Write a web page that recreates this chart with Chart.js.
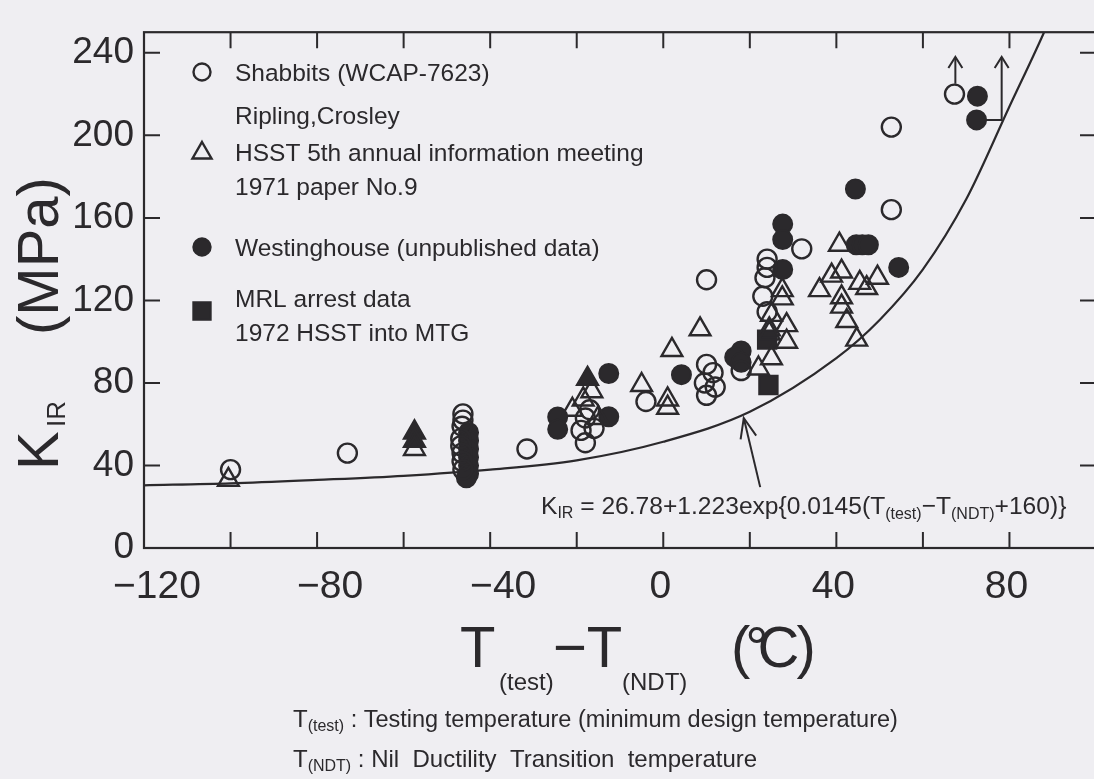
<!DOCTYPE html>
<html>
<head>
<meta charset="utf-8">
<script src="https://cdn.jsdelivr.net/npm/chart.js@4/dist/chart.umd.min.js"></script>
<style>
  html, body { margin: 0; padding: 0; background: #efeef2; overflow: hidden; }
  #wrap { width: 1094px; height: 779px; overflow: hidden; position: relative; }
  canvas { display: block; }
</style>
</head>
<body>
<div id="wrap"><canvas id="c" width="1112" height="779"></canvas></div>
<script>
// ---- tick values ----
const xLabelTicks = [-120, -80, -40, 0, 40, 80];
const xMarkTicks = [-100, -80, -60, -40, -20, 0, 20, 40, 60, 80];
const yLabelTicks = [0, 40, 80, 120, 160, 200, 240];
const yMarkTicks = [40, 80, 120, 160, 200, 240];

// ---- Shabbits (WCAP-7623): open circles ----
const shabT = [-100, -73, -46.3, -46.3, -46.5, -46.8, -46.8, -46.5, -46.5, -46.3, -31.5,
  -18, -19, -16, -18, -17, -4, 10, 10, 11.5, 9.5, 12, 10, 18,
  24, 24, 23.5, 23, 24, 32, 52.7, 52.7, 67.3];
const shabK = [38, 46, 65, 62, 59, 53, 49.5, 46, 42, 38, 48,
  51, 57, 58, 63, 67, 71, 130, 89, 85, 80, 78, 74, 86,
  140, 136, 131, 122, 114.5, 145, 204, 164, 220];

// ---- HSST 5th annual information meeting: triangles ----
const hsstT = [-100.5, -57.5, -57.5, -57.5, -21, -18.5, -16.5, -15, -17.5,
  -5, 2, 1, 1, 8.5, 22, 25, 24.5, 25, 27.5, 27.5, 28.5, 28.5, 24.5,
  40.7, 38.9, 41.2, 36.1, 45.4, 49.5, 47, 41.2, 41.2, 42.4, 44.7];
const hsstK = [33, 56, 52, 48, 67, 72, 76, 63, 82,
  79, 96, 72, 68, 106, 87, 92, 106, 113, 125, 121, 108, 100, 104,
  147, 132, 134, 125, 128.5, 131, 126, 121.5, 117, 110, 101];
const hsstSolid = [0, 1, 1, 0, 0, 0, 0, 0, 1,
  0, 0, 0, 0, 0, 0, 0, 0, 0, 0, 0, 0, 0, 0,
  0, 0, 0, 0, 0, 0, 0, 0, 0, 0, 0];

// ---- Westinghouse (unpublished data): filled circles ----
const westT = [-45, -45, -45, -45, -45, -45, -45.5, -24.4, -24.4, -12.6, -12.6,
  4.2, 18, 16.5, 18, 27.6, 27.6, 27.6, 44.4, 44.6, 46, 47.4, 54.4, 72.6, 72.4];
const westK = [56, 52, 48, 44, 40, 36, 34, 63.5, 57.5, 84.6, 63.6,
  84, 95.5, 92.5, 90, 157, 149.5, 135, 174, 147, 147, 147, 136, 219, 207.5];

// ---- MRL arrest data (1972 HSST into MTG): filled squares ----
const mrlT = [24, 24.3];
const mrlK = [101, 79];

// ---- K_IR reference curve ----
const curveT = [-120, -100, -80, -60, -40, -20, 0, 20, 40, 50, 60, 70, 80, 88, 92];
const curveK = [30.4, 31.3, 33, 35, 38, 42.5, 51.5, 66, 92, 110.5, 135, 169, 214, 250, 270];

// ---- "greater than" arrows and the curve pointer, in data units ----
const arrowUpA = [[67.5, 225], [67.5, 238]];
const arrowUpB = [[74.5, 207.5], [78.2, 207.5], [78.2, 238]];
const curvePointer = [[22.4, 29.5], [18.6, 63]];

const INK = '#2b292c';
const FONT = '"Liberation Sans", Arial, Helvetica, sans-serif';
const CLEAR = 'rgba(0,0,0,0)';

const pts = (xs, ys) => xs.map((x, i) => ({ x, y: ys[i] }));
const fmt = v => (v < 0 ? '\u2212' + Math.abs(v) : String(v));

function marker(ctx, style, x, y, r, filled) {
  ctx.save();
  ctx.lineWidth = 2.4;
  ctx.strokeStyle = INK;
  ctx.fillStyle = filled ? INK : CLEAR;
  ctx.beginPath();
  if (style === 'circle') {
    ctx.arc(x, y, r, 0, Math.PI * 2);
  } else if (style === 'triangle') {
    ctx.moveTo(x, y - r);
    ctx.lineTo(x + r * Math.sin(Math.PI / 3), y + r / 2);
    ctx.lineTo(x - r * Math.sin(Math.PI / 3), y + r / 2);
    ctx.closePath();
  } else {
    const s = r * Math.SQRT1_2;
    ctx.rect(x - s, y - s, 2 * s, 2 * s);
  }
  if (filled) ctx.fill();
  ctx.stroke();
  ctx.restore();
}

// draws a run of text pieces; each piece: {t, size, dy, gap}
function rich(ctx, x, y, parts) {
  let cx = x;
  for (const p of parts) {
    cx += p.gap || 0;
    ctx.font = (p.size) + 'px ' + FONT;
    ctx.fillText(p.t, cx, y + (p.dy || 0));
    cx += ctx.measureText(p.t).width;
  }
  return cx;
}

function polyArrow(ctx, chart, path, head, headW) {
  const xs = chart.scales.x, ys = chart.scales.y;
  const p = path.map(([a, b]) => [xs.getPixelForValue(a), ys.getPixelForValue(b)]);
  ctx.save();
  ctx.strokeStyle = INK;
  ctx.lineWidth = 2;
  ctx.beginPath();
  ctx.moveTo(p[0][0], p[0][1]);
  for (let i = 1; i < p.length; i++) ctx.lineTo(p[i][0], p[i][1]);
  ctx.stroke();
  const [x1, y1] = p[p.length - 2], [x2, y2] = p[p.length - 1];
  const ang = Math.atan2(y2 - y1, x2 - x1);
  ctx.beginPath();
  ctx.moveTo(x2 - head * Math.cos(ang) + headW * Math.sin(ang), y2 - head * Math.sin(ang) - headW * Math.cos(ang));
  ctx.lineTo(x2, y2);
  ctx.lineTo(x2 - head * Math.cos(ang) - headW * Math.sin(ang), y2 - head * Math.sin(ang) + headW * Math.cos(ang));
  ctx.stroke();
  ctx.restore();
}

const framePlugin = {
  id: 'frame',
  afterDatasetsDraw(chart) {
    const { ctx, chartArea: a, scales: { x, y } } = chart;
    ctx.save();
    ctx.strokeStyle = INK;
    ctx.lineWidth = 2.2;
    ctx.strokeRect(a.left, a.top, a.right - a.left, a.bottom - a.top);
    ctx.lineWidth = 2;
    const TL = 16;
    ctx.beginPath();
    for (const v of xMarkTicks) {
      const px = x.getPixelForValue(v);
      ctx.moveTo(px, a.bottom); ctx.lineTo(px, a.bottom - TL);
      ctx.moveTo(px, a.top); ctx.lineTo(px, a.top + TL);
    }
    for (const v of yMarkTicks) {
      const py = y.getPixelForValue(v);
      ctx.moveTo(a.left, py); ctx.lineTo(a.left + TL, py);
      ctx.moveTo(a.right, py); ctx.lineTo(a.right - TL, py);
    }
    ctx.stroke();

    // x tick labels (negative values sit a little right of their tick)
    ctx.fillStyle = INK;
    ctx.font = '39px ' + FONT;
    ctx.textAlign = 'center';
    ctx.textBaseline = 'alphabetic';
    for (const v of xLabelTicks) {
      const px = x.getPixelForValue(v) + (v < 0 ? 13 : -3);
      ctx.fillText(fmt(v), px, a.bottom + 50);
    }
    ctx.restore();

    polyArrow(ctx, chart, arrowUpA, 11, 7);
    polyArrow(ctx, chart, arrowUpB, 11, 7);
    polyArrow(ctx, chart, curvePointer, 20, 8);
  },
  afterDraw(chart) {
    const ctx = chart.ctx;
    ctx.save();
    ctx.fillStyle = INK;
    ctx.textBaseline = 'alphabetic';
    ctx.textAlign = 'left';

    // legend
    const LX = 202, TX = 235, LS = 24.5;
    marker(ctx, 'circle', LX, 72, 8.5, false);
    rich(ctx, TX, 81, [{ t: 'Shabbits (WCAP-7623)', size: LS }]);
    rich(ctx, TX, 124, [{ t: 'Ripling,Crosley', size: LS }]);
    marker(ctx, 'triangle', LX, 153, 11, false);
    rich(ctx, TX, 161, [{ t: 'HSST 5th annual information meeting', size: LS }]);
    rich(ctx, TX, 195, [{ t: '1971 paper No.9', size: LS }]);
    marker(ctx, 'circle', LX, 247, 8.5, true);
    rich(ctx, TX, 256, [{ t: 'Westinghouse (unpublished data)', size: LS }]);
    marker(ctx, 'rect', LX, 311, 12, true);
    rich(ctx, TX, 307, [{ t: 'MRL arrest data', size: LS }]);
    rich(ctx, TX, 341, [{ t: '1972 HSST into MTG', size: LS }]);

    // curve equation
    rich(ctx, 541, 514, [
      { t: 'K', size: 24.6 }, { t: 'IR', size: 16, dy: 4 },
      { t: ' = 26.78+1.223exp{0.0145(T', size: 24.6 },
      { t: '(test)', size: 16, dy: 5 }, { t: '\u2212T', size: 24.6 },
      { t: '(NDT)', size: 16, dy: 5 }, { t: '+160)}', size: 24.6 }
    ]);

    // x axis title
    rich(ctx, 460, 667, [{ t: 'T', size: 58 }]);
    rich(ctx, 499, 690, [{ t: '(test)', size: 24 }]);
    rich(ctx, 553, 667, [{ t: '\u2212T', size: 58 }]);
    rich(ctx, 622, 690, [{ t: '(NDT)', size: 24 }]);
    rich(ctx, 731, 667, [
      { t: '(', size: 58 }, { t: '\u00B0', size: 58, gap: -5 },
      { t: 'C', size: 58, gap: -11 }, { t: ')', size: 58, gap: -3 }
    ]);

    // y axis title
    ctx.save();
    ctx.translate(58, 470);
    ctx.rotate(-Math.PI / 2);
    rich(ctx, 0, 0, [{ t: 'K', size: 58 }]);
    rich(ctx, 43, 7, [{ t: 'IR', size: 26 }]);
    rich(ctx, 135, 0, [{ t: '(MPa)', size: 58 }]);
    ctx.restore();

    // notes
    rich(ctx, 293, 727, [
      { t: 'T', size: 24 }, { t: '(test)', size: 16, dy: 4 },
      { t: ' : Testing temperature (minimum design temperature)', size: 23.5 }
    ]);
    rich(ctx, 293, 767, [
      { t: 'T', size: 24 }, { t: '(NDT)', size: 16, dy: 4 },
      { t: ' : Nil  Ductility  Transition  temperature', size: 24 }
    ]);
    ctx.restore();
  }
};

new Chart(document.getElementById('c'), {
  type: 'scatter',
  data: {
    datasets: [
      { label: 'Shabbits (WCAP-7623)', data: pts(shabT, shabK), pointStyle: 'circle',
        pointRadius: 9.5, pointBorderColor: INK, pointBackgroundColor: CLEAR, pointBorderWidth: 2.4 },
      { label: 'HSST 5th annual information meeting 1971 paper No.9', data: pts(hsstT, hsstK),
        pointStyle: 'triangle', pointRadius: 12, pointBorderColor: INK,
        pointBackgroundColor: hsstSolid.map(f => (f ? INK : CLEAR)), pointBorderWidth: 2.4 },
      { label: 'Westinghouse (unpublished data)', data: pts(westT, westK), pointStyle: 'circle',
        pointRadius: 9.5, pointBorderColor: INK, pointBackgroundColor: INK, pointBorderWidth: 2 },
      { label: 'MRL arrest data 1972 HSST into MTG', data: pts(mrlT, mrlK), pointStyle: 'rect',
        pointRadius: 13, pointBorderColor: INK, pointBackgroundColor: INK, pointBorderWidth: 2 },
      { type: 'line', label: 'K_IR', data: pts(curveT, curveK), borderColor: INK, borderWidth: 2.2,
        pointRadius: 0, cubicInterpolationMode: 'monotone', fill: false }
    ]
  },
  options: {
    responsive: false,
    animation: false,
    events: [],
    layout: { padding: { top: 13, right: 16, left: 0, bottom: 0 } },
    plugins: { legend: { display: false }, tooltip: { enabled: false } },
    scales: {
      x: {
        type: 'linear', min: -120, max: 100,
        afterFit(s) { s.height = 231; },
        afterBuildTicks(s) { s.ticks = xLabelTicks.map(v => ({ value: v })); },
        grid: { display: false, drawTicks: false }, border: { display: false },
        ticks: { display: false }
      },
      y: {
        type: 'linear', min: 0, max: 250,
        afterFit(s) { s.width = 144; },
        afterBuildTicks(s) { s.ticks = yLabelTicks.map(v => ({ value: v })); },
        grid: { display: false, drawTicks: false }, border: { display: false },
        ticks: { color: INK, padding: 10, autoSkip: false,
          font: { family: FONT, size: 37 }, callback: v => fmt(v) }
      }
    }
  },
  plugins: [framePlugin]
});
</script>
</body>
</html>
